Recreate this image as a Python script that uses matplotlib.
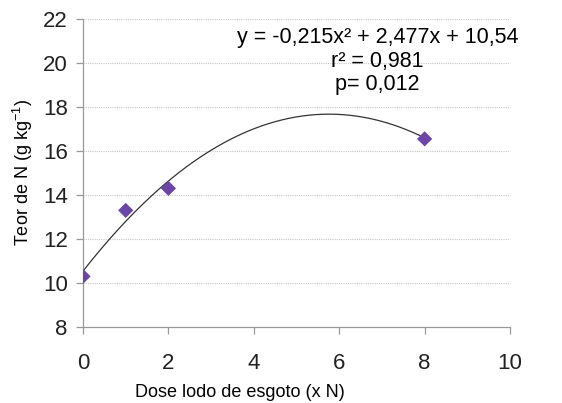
import numpy as np
import matplotlib.pyplot as plt

plt.rcParams['font.family'] = ['Liberation Sans', 'DejaVu Sans']

# observed points
dose = [0, 1, 2, 8]
teor_n = [10.3, 13.3, 14.3, 16.55]

# fitted quadratic trend (from equation on chart)
coef = [-0.215, 2.477, 10.54]
x_fit = np.linspace(0, 8, 200)
y_fit = np.polyval(coef, x_fit)

fig = plt.figure(figsize=(5.62, 4.03), dpi=100)
ax = fig.add_axes([0.1477, 0.1886, 0.7598, 0.7643])

for y in range(10, 23, 2):
    ax.axhline(y, color='#c8c8c8', lw=0.8, ls=(0, (1, 1)), zorder=0)

ax.plot(x_fit, y_fit, color='#333333', lw=0.9, zorder=2)
ax.scatter(dose, teor_n, marker='D', s=60, color='#6b45a8', edgecolors='none', zorder=3)

ax.set_xlim(0, 10)
ax.set_ylim(8, 22)
ax.set_xticks(range(0, 11, 2))
ax.set_yticks(range(8, 23, 2))

for s in ['top', 'right']:
    ax.spines[s].set_visible(False)
for s in ['left', 'bottom']:
    ax.spines[s].set_color('#999999')
    ax.spines[s].set_linewidth(0.9)
ax.tick_params(axis='both', colors='#999999', labelcolor='#222222', labelsize=16, length=5, width=0.9)
ax.tick_params(axis='x', pad=14)
ax.tick_params(axis='y', pad=6)

ax.set_xlabel('Dose lodo de esgoto (x N)', fontsize=13)
ax.xaxis.set_label_coords(0.368, -0.185)
ax.set_ylabel('Teor de N (g kg$^{\\mathregular{-1}}$)', fontsize=13, labelpad=6)

ax.text(6.9, 21.18, 'y = -0,215x² + 2,477x + 10,54', fontsize=15.5, ha='center', va='center')
ax.text(6.9, 20.05, 'r² = 0,981', fontsize=15.5, ha='center', va='center')
ax.text(6.9, 19.0, 'p= 0,012', fontsize=15.5, ha='center', va='center')

fig.savefig('out.png', dpi=100)
